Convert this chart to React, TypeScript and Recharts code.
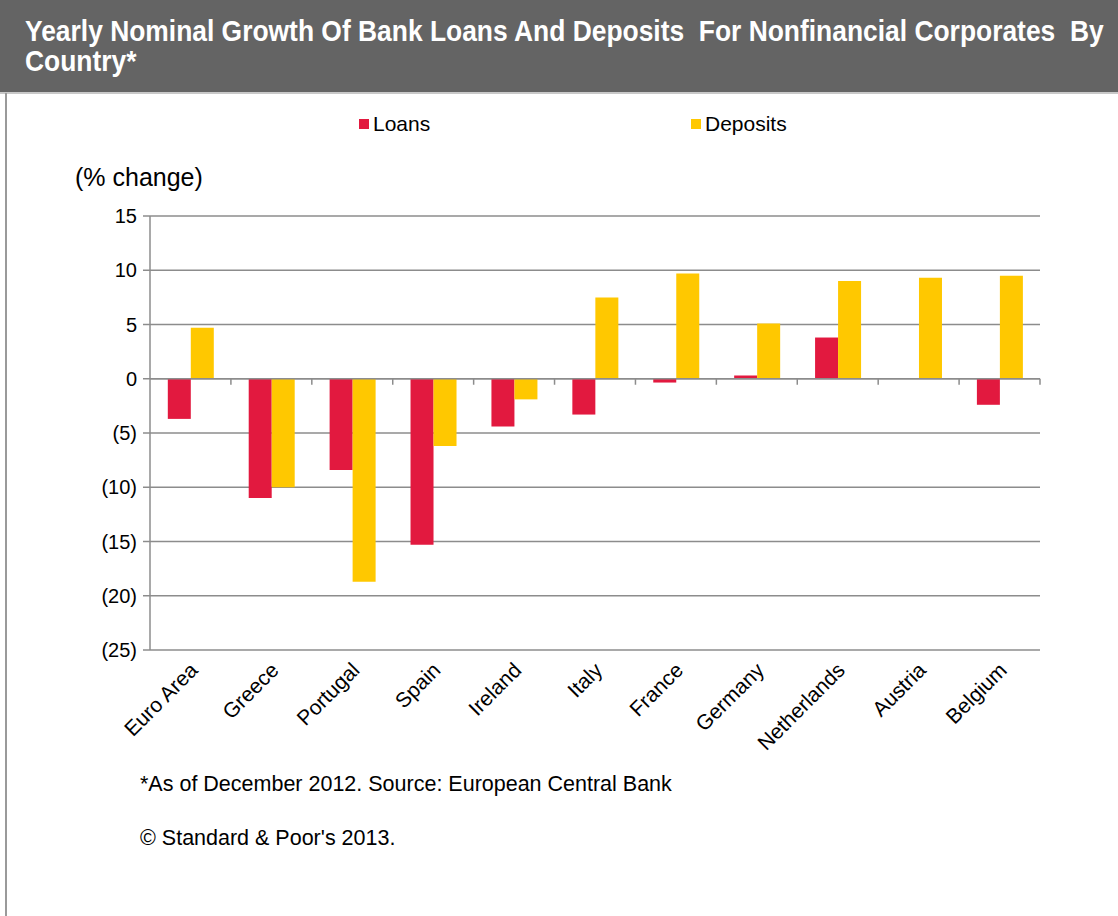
import React from 'react';
import { BarChart, Bar, XAxis, YAxis, CartesianGrid, ReferenceLine } from 'recharts';

const countries = ['Euro Area', 'Greece', 'Portugal', 'Spain', 'Ireland', 'Italy', 'France', 'Germany', 'Netherlands', 'Austria', 'Belgium'];
const loans = [-3.7, -11.0, -8.4, -15.3, -4.4, -3.3, -0.35, 0.3, 3.8, 0, -2.4];
const deposits = [4.7, -10.0, -18.7, -6.2, -1.9, 7.5, 9.7, 5.1, 9.0, 9.3, 9.5];
const yTicks = [15, 10, 5, 0, -5, -10, -15, -20, -25];
const seriesNames = ['Loans', 'Deposits'];
const seriesColors = ['#E2193F', '#FFC800'];

const TITLE = 'Yearly Nominal Growth Of Bank Loans And Deposits  For Nonfinancial Corporates  By Country*';
const FONT = '"Liberation Sans", Arial, sans-serif';

const data = countries.map((c, i) => ({ country: c, Loans: loans[i], Deposits: deposits[i] }));

const fmtY = (v: number) => (v < 0 ? `(${Math.abs(v)})` : `${v}`);

const XTick = (props: any) => {
  const { x, y, payload } = props;
  return (
    <g transform={`translate(${x - 2},${y + 3})`}>
      <text
        x={0}
        y={0}
        dy="0.71em"
        textAnchor="end"
        transform="rotate(-45)"
        fill="#000"
        fontSize={21}
        fontFamily={FONT}
      >
        {payload.value}
      </text>
    </g>
  );
};

const ZeroLine = (props: any) => {
  const { x1, x2, y1 } = props;
  const n = countries.length;
  const step = (x2 - x1) / n;
  const ticks = [];
  for (let i = 1; i <= n; i++) {
    const tx = x1 + step * i;
    ticks.push(<line key={i} x1={tx} x2={tx} y1={y1} y2={y1 + 6} stroke="#8c8c8c" strokeWidth={1.5} />);
  }
  return (
    <g>
      <line x1={x1} x2={x2} y1={y1} y2={y1} stroke="#8c8c8c" strokeWidth={1.5} />
      {ticks}
    </g>
  );
};

export default function App() {
  return (
    <div style={{ position: 'absolute', left: 0, top: 0, width: 1118, height: 916, background: '#fff', overflow: 'hidden' }}>
      <div style={{ position: 'absolute', left: 0, top: 0, width: 1118, height: 92, background: '#646464' }} />
      <div style={{ position: 'absolute', left: 0, top: 92, width: 1118, height: 2, background: '#c8c8c8' }} />
      <div style={{ position: 'absolute', left: 5, top: 93, width: 2, height: 823, background: '#9a9a9a' }} />
      <div
        style={{
          position: 'absolute',
          left: 25,
          top: 16,
          width: 1240,
          color: '#fff',
          fontFamily: FONT,
          fontWeight: 'bold',
          fontSize: 30,
          lineHeight: '30px',
          whiteSpace: 'pre-wrap',
          transform: 'scaleX(0.88)',
          transformOrigin: 'left top',
        }}
      >
        {TITLE}
      </div>
      <div style={{ position: 'absolute', left: 0, top: 0 }}>
        <BarChart
          width={1118}
          height={916}
          data={data}
          margin={{ top: 216, right: 78, bottom: 166, left: 90 }}
          barCategoryGap="22%"
          barGap={0}
        >
          <CartesianGrid vertical={false} stroke="#8c8c8c" strokeWidth={1.5} />
          <XAxis
            dataKey="country"
            height={100}
            axisLine={false}
            tickLine={false}
            interval={0}
            tick={<XTick />}
          />
          <YAxis
            width={60}
            domain={[-25, 15]}
            ticks={yTicks}
            tickFormatter={fmtY}
            stroke="#8c8c8c"
            strokeWidth={1.5}
            tickSize={7}
            tickMargin={6}
            tick={{ fill: '#000', fontSize: 20, fontFamily: FONT }}
            interval={0}
          />
          <Bar dataKey="Loans" fill={seriesColors[0]} isAnimationActive={false} />
          <Bar dataKey="Deposits" fill={seriesColors[1]} isAnimationActive={false} />
          <ReferenceLine y={0} shape={<ZeroLine />} />
        </BarChart>
      </div>
      {seriesNames.map((name, i) => (
        <div
          key={name}
          style={{
            position: 'absolute',
            left: 359 + i * 332,
            top: 112,
            display: 'flex',
            alignItems: 'center',
            fontFamily: FONT,
            fontSize: 21,
            color: '#000',
          }}
        >
          <span style={{ display: 'inline-block', width: 10, height: 10, background: seriesColors[i], marginRight: 4 }} />
          <span>{name}</span>
        </div>
      ))}
      <div style={{ position: 'absolute', left: 75, top: 163, fontFamily: FONT, fontSize: 25, color: '#000' }}>(% change)</div>
      <div style={{ position: 'absolute', left: 140, top: 772, fontFamily: FONT, fontSize: 21.5, color: '#000' }}>
        *As of December 2012. Source: European Central Bank
      </div>
      <div style={{ position: 'absolute', left: 140, top: 826, fontFamily: FONT, fontSize: 21.5, color: '#000' }}>
        © Standard &amp; Poor's 2013.
      </div>
    </div>
  );
}
